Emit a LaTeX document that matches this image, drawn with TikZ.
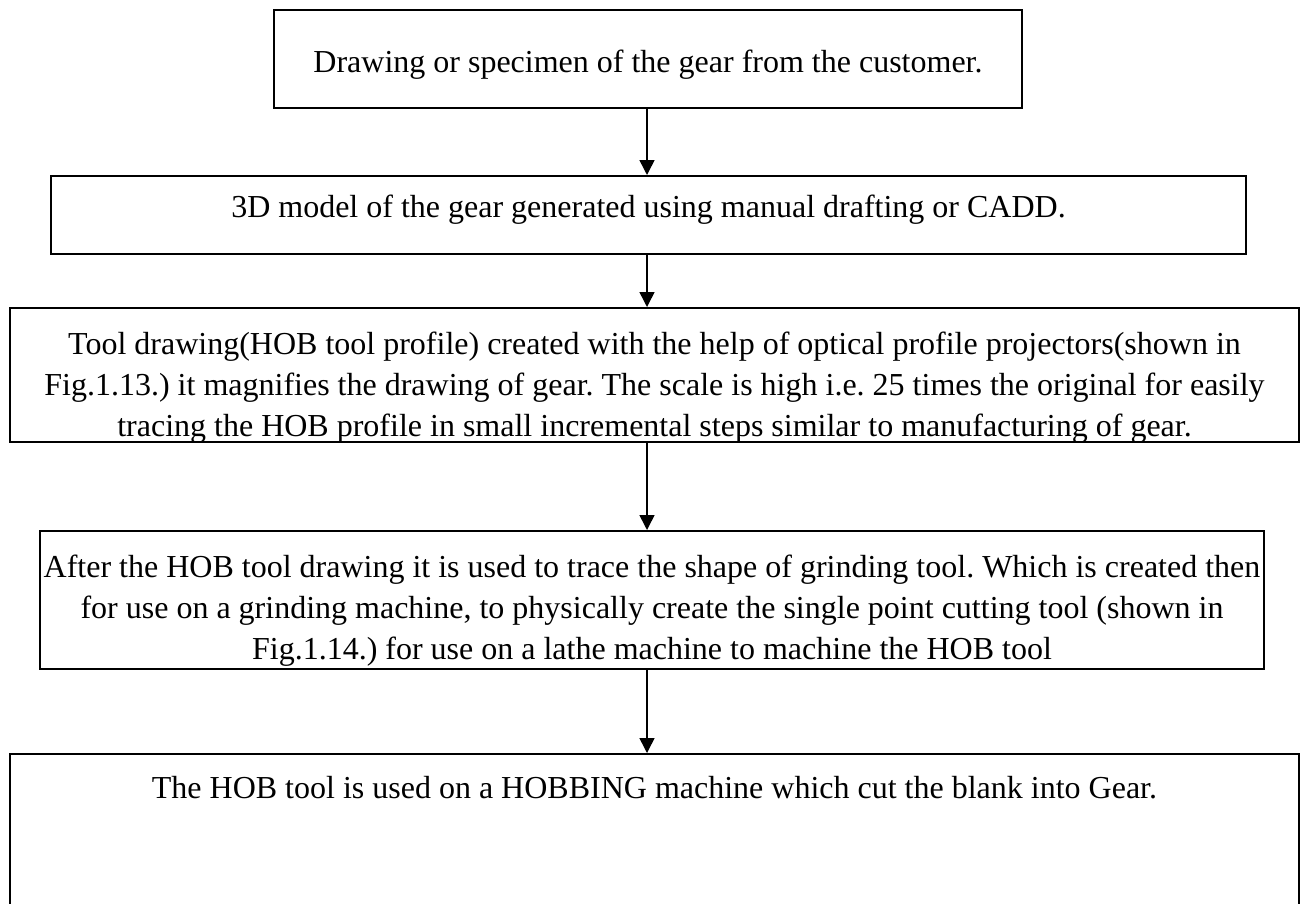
\documentclass[tikz,border=0pt]{standalone}
\usepackage{fontspec}
\setmainfont{Liberation Serif}
\usetikzlibrary{arrows.meta}

\tikzset{
  stage/.style={draw, line width=1.6pt, inner sep=0pt, align=center, anchor=north,
    font=\fontsize{32}{41}\selectfont},
  flow/.style={line width=1.5pt, -{Triangle[length=15pt,width=15pt]}}
}

\begin{document}
\frenchspacing
\begin{tikzpicture}[x=1pt,y=-1pt]
  \useasboundingbox (0,0) rectangle (1301,903);
  % the five stages, top to bottom
  \node[stage, minimum width=748pt, text height=63pt, text depth=35pt] (drawing) at (648,9)
    {Drawing or specimen of the gear from the customer.};
  \node[stage, minimum width=1195pt, text height=42pt, text depth=36pt] (model) at (648.5,175)
    {3D model of the gear generated using manual drafting or CADD.};
  \node[stage, minimum width=1289pt, text height=129pt, text depth=5pt] (hobdraw) at (654.5,307)
    {Tool drawing(HOB tool profile) created with the help of optical profile projectors(shown in\\
     Fig.1.13.) it magnifies the drawing of gear. The scale is high i.e.\ 25 times the original for easily\\
     tracing the HOB profile in small incremental steps similar to manufacturing of gear.};
  \node[stage, minimum width=1224pt, text height=129pt, text depth=9pt] (grinding) at (652,530)
    {After the HOB tool drawing it is used to trace the shape of grinding tool. Which is created then\\
     for use on a grinding machine, to physically create the single point cutting tool (shown in\\
     Fig.1.14.) for use on a lathe machine to machine the HOB tool};
  \node[stage, minimum width=1289pt, text height=45pt, text depth=200pt] (hobbing) at (654.5,753)
    {The HOB tool is used on a HOBBING machine which cut the blank into Gear.};

  \coordinate (axis) at (647,0);
  \foreach \a/\b in {drawing/model, model/hobdraw, hobdraw/grinding, grinding/hobbing} {
    \draw[flow] (axis |- \a.south) -- (axis |- \b.north);
  }
\end{tikzpicture}
\end{document}
